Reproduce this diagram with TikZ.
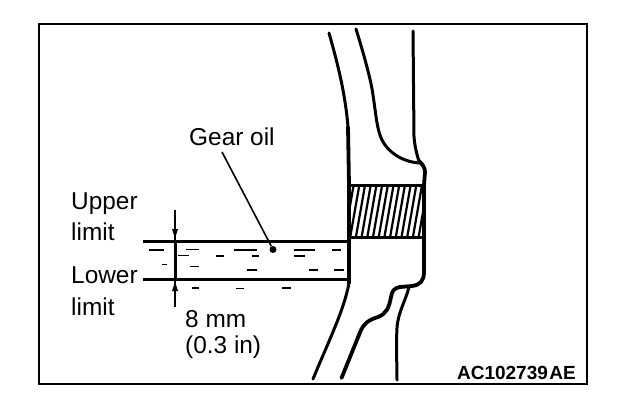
\documentclass[tikz,border=0pt]{standalone}
\usepackage{fontspec}
\setmainfont{Liberation Sans}
\tikzset{
 lbl/.style={anchor=base west,inner sep=0pt,font=\fontsize{24.4}{24.4}\selectfont},
 code/.style={anchor=base east,inner sep=0pt,font=\fontsize{19}{19}\selectfont\bfseries},
 heavy/.style={line width=3.8pt,line cap=round,line join=round},
 mid/.style={line width=3pt,line cap=round,line join=round},
 thin line/.style={line width=1.6pt},
 dim line/.style={line width=2.2pt},
 dash stroke/.style={line width=1.6pt},
 hatch/.style={line width=2.2pt}
}
\begin{document}
\begin{tikzpicture}[x=1pt,y=-1pt]
\useasboundingbox (0,0) rectangle (640,412);
\fill[white] (0,0) rectangle (640,412);
\draw[line width=2pt] (39,24.5) rectangle (586.5,383.5);
% hatching
\begin{scope}
\clip (349,185) rectangle (424,238);
\foreach \i in {0,...,14}{
 \draw[hatch] ({344+\i*5.7},240) -- ({354+\i*5.7},183);
}
\end{scope}
% gear outlines
\draw[mid] (329,33) .. controls (336,58) and (345,90) .. (348,127);
\draw[heavy] (348,127) -- (349,185) -- (349,283);
\draw[mid] (349,283) .. controls (344,310) and (330,338) .. (313,379);
\draw[mid] (356,29) .. controls (364,55) and (371,80) .. (373,95) .. controls (376,115) and (377,130) .. (382,140) .. controls (388,152) and (402,162) .. (420,163);
\draw[mid] (413,31) -- (414,137) .. controls (415,148) and (417,155) .. (419,161);
\draw[heavy] (419,161) .. controls (422,164) and (425,167) .. (425,172) -- (424,185) -- (424,272) .. controls (424,281) and (420,285) .. (412,286) -- (400,287) .. controls (394,288) and (392,291) .. (391,297) .. controls (389,308) and (386,314) .. (378,317) .. controls (368,320) and (364,324) .. (361,330) -- (341.5,378);
\draw[mid] (409,287) .. controls (406,300) and (398,312) .. (397,328) .. controls (396,345) and (397,365) .. (397,380);
\draw[line width=3.4pt] (349,185.5) -- (424,185.5);
\draw[line width=3.4pt] (349,237.5) -- (424,237.5);
% oil
\draw[line width=3.2pt] (143,241.7) -- (349,241.7);
\draw[line width=3pt] (143,279.3) -- (349,279.3);
\foreach \a/\b/\y in {149/164/250, 186/199/249.5, 178/189/255.5, 216/224/256, 234/257/250, 252/259/256, 294/315/250, 294/305/256, 332/341/250, 162/167/264.5, 190/199/266.5, 247/257/270, 309/318/270, 334/344/270, 192/199/288, 236/244/288.5, 282/291/288}
 \draw[dash stroke] (\a,\y) -- (\b,\y);
% limit arrows
\coordinate (dimtop) at (175,210);
\coordinate (dimbot) at (175,307);
\coordinate (dimu) at (175,241);
\coordinate (diml) at (175,279);
\draw[dim line] (dimtop) -- (diml);
\draw[line width=3pt] (dimu) -- (diml);
\draw[dim line] (diml) -- (dimbot);
\fill (175,238) -- (172,229) -- (178,229) -- cycle;
\fill (175,282) -- (172,291) -- (178,291) -- cycle;
% labels
\node[lbl] (gear) at (189,145) {Gear oil};
\node[lbl] (up1) at (71,209) {Upper};
\node[lbl] (up2) at (71,240) {limit};
\node[lbl] (lo1) at (71,283.5) {Lower};
\node[lbl] (lo2) at (71,315) {limit};
\node[lbl] (dim1) at (185,327) {8 mm};
\node[lbl] (dim2) at (185,353) {(0.3 in)};
\node[code] (ac) at (576,379) {AC102739\kern1.5pt AE};
% gear oil leader
\node[circle,fill=black,minimum size=7pt,inner sep=0pt] (dot) at (273,249.5) {};
\coordinate (lead) at (222,152);
\draw[thin line] (lead) -- (dot);
\end{tikzpicture}
\end{document}
